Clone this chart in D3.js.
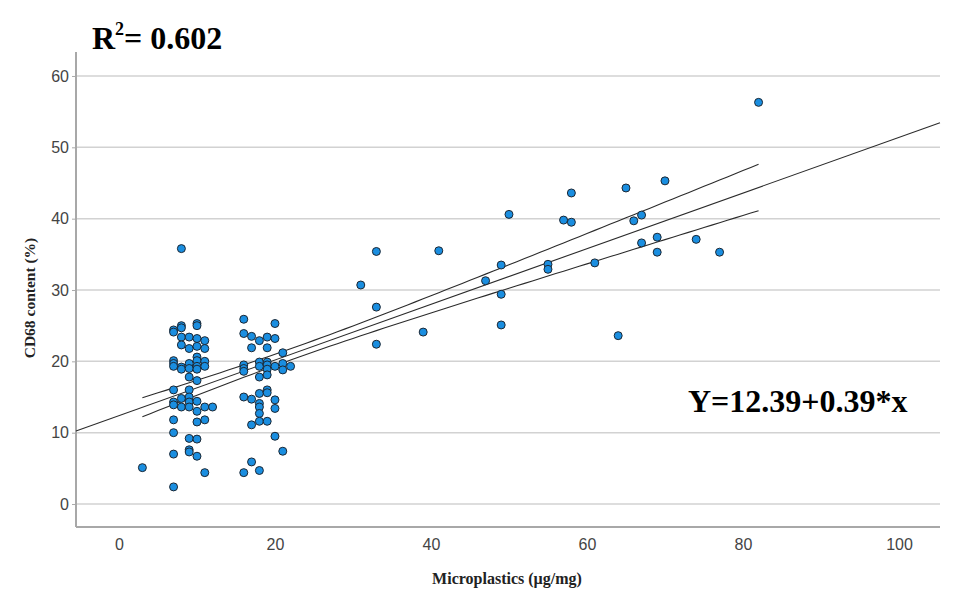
<!DOCTYPE html>
<html>
<head>
<meta charset="utf-8">
<script src="https://cdn.jsdelivr.net/npm/d3@7/dist/d3.min.js"></script>
<style>
body { margin: 0; background: #fff; }
</style>
</head>
<body>
<div id="chart"></div>
<script>
// scatter data: microplastics (x) vs CD68 content (y)
var xVals = [
  3,
  7, 7, 7, 7, 7, 7, 7, 7, 7, 7, 7, 7,
  8, 8, 8, 8, 8, 8, 8, 8, 8,
  9, 9, 9, 9, 9, 9, 9, 9, 9, 9, 9, 9,
  10, 10, 10, 10, 10, 10, 10, 10, 10, 10, 10, 10, 10, 10,
  11, 11, 11, 11, 11, 11, 11,
  12,
  16, 16, 16, 16, 16, 16, 16,
  17, 17, 17, 17, 17,
  18, 18, 18, 18, 18, 18, 18, 18, 18, 18,
  19, 19, 19, 19, 19, 19, 19, 19, 19,
  20, 20, 20, 20, 20, 20,
  21, 21, 21, 21,
  22,
  31, 33, 33, 33, 39, 41, 47, 49, 49, 49, 50, 55, 55, 57, 58, 58,
  61, 64, 65, 66, 67, 67, 69, 69, 70, 74, 77, 82
];
var yVals = [
  5.1,
  24.4, 24.1, 20.1, 19.7, 19.3, 16.0, 14.3, 13.9, 11.8, 10.0, 7.0, 2.4,
  35.8, 25.0, 24.7, 23.4, 22.3, 19.2, 18.9, 14.8, 13.6,
  23.4, 21.8, 19.7, 19.0, 17.8, 16.0, 15.0, 14.3, 13.6, 9.2, 7.6, 7.3,
  25.3, 25.0, 23.2, 22.1, 20.6, 20.1, 19.3, 18.9, 17.3, 14.4, 13.0, 11.5, 9.1, 6.7,
  22.9, 21.8, 20.0, 19.3, 13.6, 11.8, 4.4,
  13.6,
  25.9, 23.9, 19.5, 19.0, 18.6, 15.0, 4.4,
  23.5, 21.9, 14.7, 11.1, 5.9,
  22.9, 19.9, 19.3, 17.8, 15.5, 14.1, 13.6, 12.7, 11.6, 4.7,
  23.4, 21.9, 19.9, 19.5, 18.9, 18.1, 16.0, 15.6, 11.6,
  25.3, 23.2, 19.3, 14.6, 13.4, 9.5,
  21.2, 19.7, 18.8, 7.4,
  19.3,
  30.7, 35.4, 27.6, 22.4, 24.1, 35.5, 31.3, 33.5, 29.4, 25.1, 40.6, 33.6, 32.9, 39.8, 43.6, 39.5,
  33.8, 23.6, 44.3, 39.7, 40.5, 36.6, 37.4, 35.3, 45.3, 37.1, 35.3, 56.3
];

var xTicks = [0, 20, 40, 60, 80, 100];
var yTicks = [0, 10, 20, 30, 40, 50, 60];

// fit and mean confidence band
var intercept = 12.39, slope = 0.39;
var bandX = [3, 82];          // range of the band lines
var bandA = 0.79, bandB = 0.0534, bandXm = 23;

var W = 960, H = 595;
var mL = 76, mR = 940, mT = 52, mB = 527;

var svg = d3.select("#chart").append("svg")
  .attr("width", W)
  .attr("height", H);

var x = d3.scaleLinear().domain([-5.51, 105.26]).range([mL, mR]);
var y = d3.scaleLinear().domain([-3.22, 63.36]).range([mB, mT]);

// gridlines
svg.append("g").selectAll("line")
  .data(yTicks)
  .enter().append("line")
  .attr("x1", mL).attr("x2", mR)
  .attr("y1", function(d) { return y(d); })
  .attr("y2", function(d) { return y(d); })
  .attr("stroke", "#d2d2d2")
  .attr("stroke-width", 1.5);

// y axis
var yAxis = svg.append("g")
  .attr("transform", "translate(" + mL + ",0)")
  .call(d3.axisLeft(y).tickValues(yTicks).tickSize(4).tickSizeOuter(0));
yAxis.select(".domain").remove();
yAxis.selectAll(".tick line").attr("stroke", "#aaa");
yAxis.selectAll("text")
  .attr("x", -7)
  .style("font-family", "Liberation Sans, Arial, sans-serif")
  .style("font-size", "16px")
  .attr("fill", "#444");

// x axis
var xAxis = svg.append("g")
  .attr("transform", "translate(0," + mB + ")")
  .call(d3.axisBottom(x).tickValues(xTicks).tickSize(0).tickSizeOuter(0));
xAxis.select(".domain").remove();
xAxis.selectAll("text")
  .attr("y", 12)
  .attr("dy", "0.71em")
  .style("font-family", "Liberation Sans, Arial, sans-serif")
  .style("font-size", "16px")
  .attr("fill", "#444");

// frame lines
svg.append("line")
  .attr("x1", mL).attr("x2", mL).attr("y1", mT).attr("y2", mB)
  .attr("stroke", "#a8a8a8").attr("stroke-width", 2);
svg.append("line")
  .attr("x1", mL).attr("x2", mR).attr("y1", mB).attr("y2", mB)
  .attr("stroke", "#a8a8a8").attr("stroke-width", 2);

// fit line
var fit = function(v) { return intercept + slope * v; };
var xDom = x.domain();
svg.append("path")
  .attr("d", d3.line()([[x(xDom[0]), y(fit(xDom[0]))], [x(xDom[1]), y(fit(xDom[1]))]]))
  .attr("stroke", "#2b2b2b")
  .attr("stroke-width", 1.1)
  .attr("fill", "none");

// confidence band
var half = function(v) { return Math.sqrt(bandA * bandA + bandB * bandB * (v - bandXm) * (v - bandXm)); };
var bandPts = d3.range(bandX[0], bandX[1] + 0.01, 1);
[1, -1].forEach(function(s) {
  svg.append("path")
    .attr("d", d3.line()
      .x(function(v) { return x(v); })
      .y(function(v) { return y(fit(v) + s * half(v)); })(bandPts))
    .attr("stroke", "#2b2b2b")
    .attr("stroke-width", 1.1)
    .attr("fill", "none");
});

// points
svg.append("g").selectAll("circle")
  .data(d3.zip(xVals, yVals))
  .enter().append("circle")
  .attr("cx", function(d) { return x(d[0]); })
  .attr("cy", function(d) { return y(d[1]); })
  .attr("r", 4)
  .attr("fill", "#1a8ee0")
  .attr("stroke", "#1c2733")
  .attr("stroke-width", 1);

// axis titles
svg.append("text")
  .attr("x", 507).attr("y", 584)
  .attr("text-anchor", "middle")
  .style("font-family", "Liberation Serif, Times New Roman, serif")
  .style("font-weight", "bold")
  .style("font-size", "16px")
  .attr("fill", "#222")
  .text("Microplastics (\u00b5g/mg)");

svg.append("text")
  .attr("transform", "translate(35,298) rotate(-90)")
  .attr("text-anchor", "middle")
  .style("font-family", "Liberation Serif, Times New Roman, serif")
  .style("font-weight", "bold")
  .style("font-size", "15.5px")
  .attr("fill", "#222")
  .text("CD68 content (%)");

// annotations
var r2 = svg.append("text")
  .attr("x", 92).attr("y", 49)
  .style("font-family", "Liberation Serif, Times New Roman, serif")
  .style("font-weight", "bold")
  .style("font-size", "32px")
  .attr("fill", "#000");
r2.append("tspan").text("R");
r2.append("tspan").attr("dy", -14).style("font-size", "18px").text("2");
r2.append("tspan").attr("dy", 14).text("= 0.602");

svg.append("text")
  .attr("x", 688).attr("y", 412)
  .style("font-family", "Liberation Serif, Times New Roman, serif")
  .style("font-weight", "bold")
  .style("font-size", "32px")
  .attr("fill", "#000")
  .text("Y=12.39+0.39*x");
</script>
</body>
</html>
